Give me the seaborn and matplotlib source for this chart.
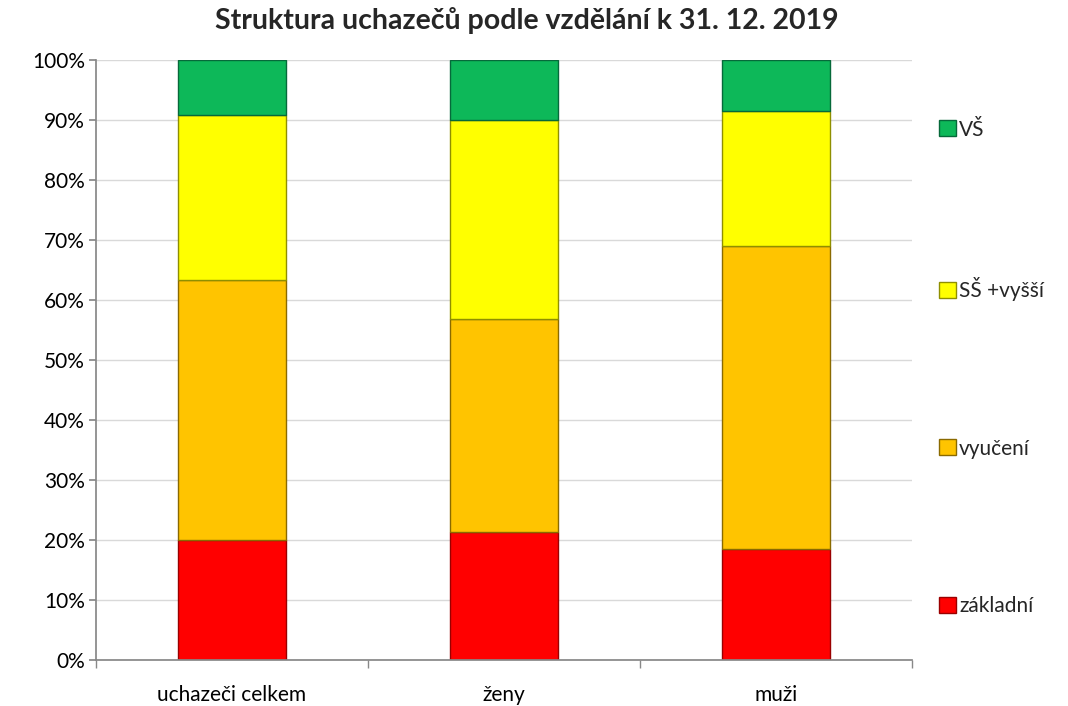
import matplotlib
matplotlib.use('Agg')

import matplotlib.pyplot as plt
import seaborn as sns
import numpy as np
import pandas as pd
from matplotlib.ticker import PercentFormatter, FixedLocator

sns.set_theme(style="white")
plt.rcParams['font.family'] = ['Lato', 'DejaVu Sans']

# data (percent shares)
categories = ["uchazeči celkem", "ženy", "muži"]
zakladni = [20.0, 21.3, 18.5]
vyuceni = [43.3, 35.5, 50.5]
ss_vyssi = [27.5, 33.2, 22.5]
vs = [9.2, 10.0, 8.5]

series = [
    ("základní", zakladni, "#FF0000", "#9a0000"),
    ("vyučení", vyuceni, "#FFC400", "#8a6a00"),
    ("SŠ +vyšší", ss_vyssi, "#FFFF00", "#8f8f00"),
    ("VŠ", vs, "#0DB859", "#06693a"),
]

fig = plt.figure(figsize=(10.68, 7.06), dpi=100)
ax = fig.add_axes([0.0899, 0.0652, 0.7641, 0.8498])

bottom = np.zeros(len(categories))
for name, vals, col, edge in series:
    df = pd.DataFrame({"kat": categories, "val": vals})
    sns.barplot(data=df, x="kat", y="val", bottom=bottom, color=col,
                width=0.4, edgecolor=edge, linewidth=1.0, ax=ax,
                saturation=1, label=name)
    bottom = bottom + np.array(vals)

ax.set_xlim(-0.5, 2.5)
ax.set_ylim(0, 100)
ax.yaxis.set_major_locator(FixedLocator(np.arange(0, 101, 10)))
ax.yaxis.set_major_formatter(PercentFormatter(decimals=0))
ax.grid(axis="y", color="#d9d9d9", linewidth=1)
ax.set_axisbelow(True)
ax.set_xlabel("")
ax.set_ylabel("")

for s in ["top", "right"]:
    ax.spines[s].set_visible(False)
for s in ["left", "bottom"]:
    ax.spines[s].set_color("#888888")

ax.tick_params(axis="y", length=5, color="#888888", direction="out", left=True,
               labelsize=15, labelcolor="black", pad=3)
ax.tick_params(axis="x", length=0, labelsize=15, labelcolor="black", pad=18)
ax.set_xticks(range(len(categories)))
ax.set_xticklabels(categories)
ax.set_xticks([-0.5, 0.5, 1.5, 2.5], minor=True)
ax.tick_params(axis="x", which="minor", length=6, color="#888888", bottom=True)

fig.suptitle("Struktura uchazečů podle vzdělání k 31. 12. 2019", x=0.493,
             y=0.99, fontsize=20.5, fontweight="bold")

h, l = ax.get_legend_handles_labels()
if ax.get_legend() is not None:
    ax.get_legend().remove()
leg = fig.legend(h[::-1], l[::-1], loc="upper left", bbox_to_anchor=(0.862, 0.857),
                 frameon=False, fontsize=15, labelspacing=6.6, handlelength=0.8,
                 handleheight=0.8, handletextpad=0.15)

fig.savefig("out.png", dpi=100)
